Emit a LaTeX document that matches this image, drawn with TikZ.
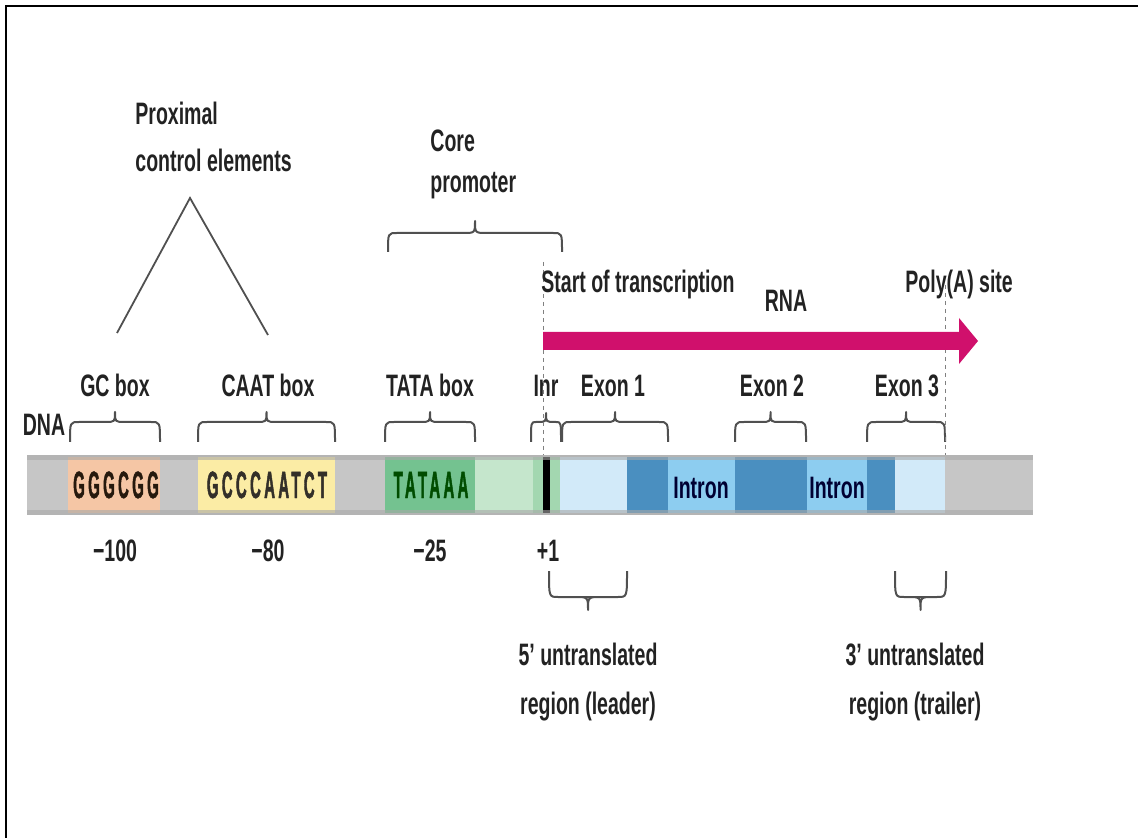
\documentclass[tikz,border=0pt]{standalone}
\usepackage{fontspec}
\setmainfont{Liberation Sans}[FakeStretch=0.63]
\newfontfamily\seqfont{Liberation Sans}[FakeStretch=0.39, LetterSpace=9, FakeBold=1.2]
\definecolor{gcc}{HTML}{F5C6A5}
\definecolor{caatc}{HTML}{FBECA5}
\definecolor{tatac}{HTML}{74C290}
\definecolor{lgreen}{HTML}{C5E6CC}
\definecolor{mgreen}{HTML}{A3D7B0}
\definecolor{utrc}{HTML}{D2EAF9}
\definecolor{exonc}{HTML}{4A8FC0}
\definecolor{intronc}{HTML}{8DCDF0}
\definecolor{barc}{HTML}{C6C6C6}
\definecolor{baredge}{HTML}{A8A8A8}
\definecolor{rnac}{HTML}{D0106C}
\definecolor{bracec}{HTML}{505050}
\definecolor{inkc}{HTML}{222222}
% #1 left x, #2 right x, #3 end y, #4 depth to bar, #5 tip height, #6 corner
\newcommand\gbrace[6]{%
  \draw[bracec, line width=1pt, line join=round]
    (#1,#3) .. controls (#1,#3-#4) .. (#1+#6,#3-#4)
    -- ({(#1+#2)/2-#5},#3-#4) .. controls ({(#1+#2)/2},#3-#4) .. ({(#1+#2)/2},#3-#4-#5)
    .. controls ({(#1+#2)/2},#3-#4) .. ({(#1+#2)/2+#5},#3-#4)
    -- (#2-#6,#3-#4) .. controls (#2,#3-#4) .. (#2,#3);}
\begin{document}
\begin{tikzpicture}[x=0.5pt,y=-0.5pt,
  lbl/.style={font=\bfseries\fontsize{15.5}{17}\selectfont, text=inkc, inner sep=0pt, anchor=base},
  lblw/.style={lbl, anchor=base west},
  seq/.style={font=\seqfont\bfseries\fontsize{19}{20}\selectfont, inner sep=0pt, anchor=base},
  guide/.style={draw=gray, line width=0.4pt, dash pattern=on 2pt off 2pt},
  fork/.style={draw=bracec, line width=0.9pt}]
\useasboundingbox (0,0) rectangle (1138,838);
% frame
\draw[line width=1.2pt] (6,838) -- (6,6) -- (1138,6);

% DNA bar
\fill[barc] (27,455) rectangle (1033,515);
\fill[gcc] (68,457) rectangle (160,513);
\fill[caatc] (198,457) rectangle (335,513);
\fill[tatac] (385,457) rectangle (475,513);
\fill[lgreen] (475,457) rectangle (533,513);
\fill[mgreen] (533,457) rectangle (560,513);
\fill[utrc] (560,457) rectangle (627,513);
\fill[exonc] (627,457) rectangle (668,513);
\fill[intronc] (668,457) rectangle (735,513);
\fill[exonc] (735,457) rectangle (807,513);
\fill[intronc] (807,457) rectangle (867,513);
\fill[exonc] (867,457) rectangle (895,513);
\fill[utrc] (895,457) rectangle (945,513);
\fill[black] (543,457) rectangle (550,513);
\fill[baredge, opacity=0.6] (27,455) rectangle (1033,460);
\fill[baredge, opacity=0.6] (27,510) rectangle (1033,515);

% sequences
\node[seq, text=black!80!brown] (gcseq) at (116,498) {GGGCGG};
\node[seq, text=black!85!olive] (caatseq) at (267,498) {GCCCAATCT};
\node[seq, text=black!70!green] (tataseq) at (431,498) {TATAAA};
\node[lbl, text=black!80!blue] (intron1) at (701,498) {Intron};
\node[lbl, text=black!80!blue] (intron2) at (837,498) {Intron};

% labels above bar
\node[lbl] (dna) at (44,436) {DNA};
\node[lbl] (gc) at (115,397) {GC box};
\node[lbl] (caat) at (268,397) {CAAT box};
\node[lbl] (tata) at (430,397) {TATA box};
\node[lbl] (inr) at (546,397) {Inr};
\node[lbl] (ex1) at (613,397) {Exon 1};
\node[lbl] (ex2) at (772,397) {Exon 2};
\node[lbl] (ex3) at (907,397) {Exon 3};

% numbers
\node[lbl] (m100) at (115,561) {\textminus100};
\node[lbl] (m80) at (268,561) {\textminus80};
\node[lbl] (m25) at (430,561) {\textminus25};
\node[lbl] (p1) at (548,561) {+1};

% braces above the bar
\gbrace{70}{160}{442}{20}{10}{9}
\gbrace{198}{335}{442}{20}{10}{9}
\gbrace{385}{475}{442}{20}{10}{9}
\gbrace{531}{561}{442}{20}{9}{5}
\gbrace{562}{668}{442}{20}{10}{9}
\gbrace{735}{806}{442}{20}{10}{9}
\gbrace{867}{945}{442}{20}{10}{9}

% core promoter
\gbrace{388}{562}{252}{19}{12}{9}
\node[lblw] (core) at (430,152) {Core};
\node[lblw] (prom) at (430,193) {promoter};

% proximal control elements
\node[lblw] (prox) at (135,125) {Proximal};
\node[lblw] (ctrl) at (135,172) {control elements};
\coordinate (apex) at (190,198);
\coordinate (forkL) at (117,333);
\coordinate (forkR) at (268,335);
\draw[fork] (forkL) -- (apex) -- (forkR);

% guides
\coordinate (startTop) at (543,262); \coordinate (startBot) at (543,455);
\coordinate (polyTop) at (945,285); \coordinate (polyBot) at (945,455);
\draw[guide] (startTop) -- (startBot);
\draw[guide] (polyTop) -- (polyBot);

% RNA arrow
\fill[rnac] (543,332) -- (959,332) -- (959,318) -- (978,341) -- (959,364) -- (959,350) -- (543,350) -- cycle;
\node[lblw] (start) at (541,293) {Start of transcription};
\node[lbl] (rna) at (786,312) {RNA};
\node[lblw] (poly) at (905,293) {Poly(A) site};

% UTR braces below
\gbrace{549}{627}{571}{-26}{-13}{9}
\gbrace{895}{946}{571}{-26}{-13}{9}
\node[lbl] (u5a) at (588,665) {5\textquoteright{} untranslated};
\node[lbl] (u5b) at (588,714) {region (leader)};
\node[lbl] (u3a) at (915,665) {3\textquoteright{} untranslated};
\node[lbl] (u3b) at (915,714) {region (trailer)};
\end{tikzpicture}
\end{document}
